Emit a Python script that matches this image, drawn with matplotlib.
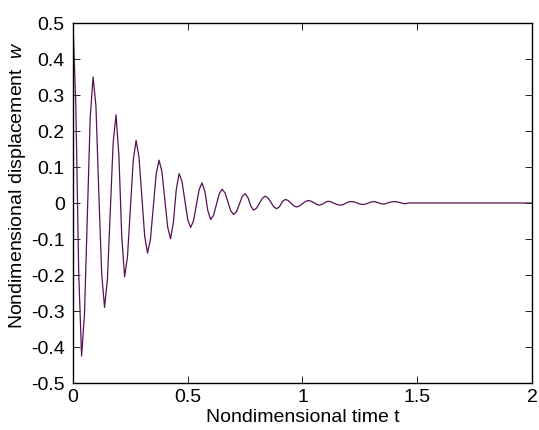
import numpy as np
import matplotlib
matplotlib.use('Agg')
import matplotlib.pyplot as plt
from matplotlib.ticker import FormatStrFormatter

plt.rcParams['font.family'] = ['Liberation Sans', 'DejaVu Sans']
plt.rcParams['axes.unicode_minus'] = False
plt.rcParams['mathtext.fontset'] = 'custom'
plt.rcParams['mathtext.it'] = 'Liberation Sans:italic'
plt.rcParams['mathtext.rm'] = 'Liberation Sans'

# time step of the sampled response
dt = 0.0125

# displacement, one value per sample (t = k*dt)
w = [
    0.500, 0.269, -0.194, -0.425, -0.311, -0.038, 0.236, 0.350, 0.270, 0.030,
    -0.196, -0.290, -0.212, -0.023, 0.167, 0.245, 0.133, -0.093, -0.205, -0.149,
    -0.016, 0.118, 0.174, 0.128, 0.018, -0.093, -0.139, -0.101, -0.010, 0.081,
    0.119, 0.087, 0.010, -0.067, -0.099, -0.054, 0.037, 0.082, 0.060, 0.007,
    -0.046, -0.068, -0.050, -0.006, 0.038, 0.056, 0.031, -0.021, -0.046, -0.034,
    -0.004, 0.026, 0.038, 0.028, 0.003, -0.022, -0.032, -0.024, -0.003, 0.018,
    0.026, 0.015, -0.009, -0.020, -0.014, -0.001, 0.013, 0.019, 0.014, 0.002,
    -0.011, -0.016, -0.010, 0.004, 0.010, 0.007, -0.001, -0.008, -0.011, -0.008,
    -0.002, 0.004, 0.007, 0.005, 0.001, -0.004, -0.006, -0.003, 0.002, 0.005,
    0.003, -0.001, -0.004, -0.006, -0.005, -0.001, 0.003, 0.004, 0.003, 0.000,
    -0.003, -0.004, -0.003, 0.000, 0.003, 0.004, 0.002, -0.001, -0.003, -0.002,
    0.001, 0.003, 0.004, 0.003, 0.001, -0.001, -0.002, 0.000,
]
t = [k * dt for k in range(len(w))]
# response stays at rest until the end of the window
t_end = 2.0
t = t + [t_end]
w = w + [0.0]

x_ticks = [0, 0.5, 1, 1.5, 2]
y_ticks = [-0.5, -0.4, -0.3, -0.2, -0.1, 0, 0.1, 0.2, 0.3, 0.4, 0.5]

fig = plt.figure(figsize=(5.39, 4.30), dpi=100)
ax = fig.add_axes([0.1354, 0.1093, 0.8516, 0.8372])

ax.plot(t, w, color='#531353', linewidth=0.9)

ax.set_xlim(0, 2)
ax.set_ylim(-0.5, 0.5)
ax.set_xticks(x_ticks)
ax.set_yticks(y_ticks)
ax.xaxis.set_major_formatter(FormatStrFormatter('%g'))
ax.yaxis.set_major_formatter(FormatStrFormatter('%g'))
ax.tick_params(direction='in', top=True, right=True, length=5, width=0.6,
               labelsize=14, colors='black')
ax.tick_params(axis='x', pad=4.5)
ax.tick_params(axis='y', pad=6)
for s in ax.spines.values():
    s.set_linewidth(1.0)

ax.set_xlabel('Nondimensional time t', fontsize=14)
ax.xaxis.set_label_coords(0.5, -0.072)
ax.xaxis.label.set_va('top')
ax.set_ylabel('Nondimensional displacement  $w$', fontsize=14)
ax.yaxis.set_label_coords(-0.098, 0.55)

fig.savefig('out.png', dpi=100)
